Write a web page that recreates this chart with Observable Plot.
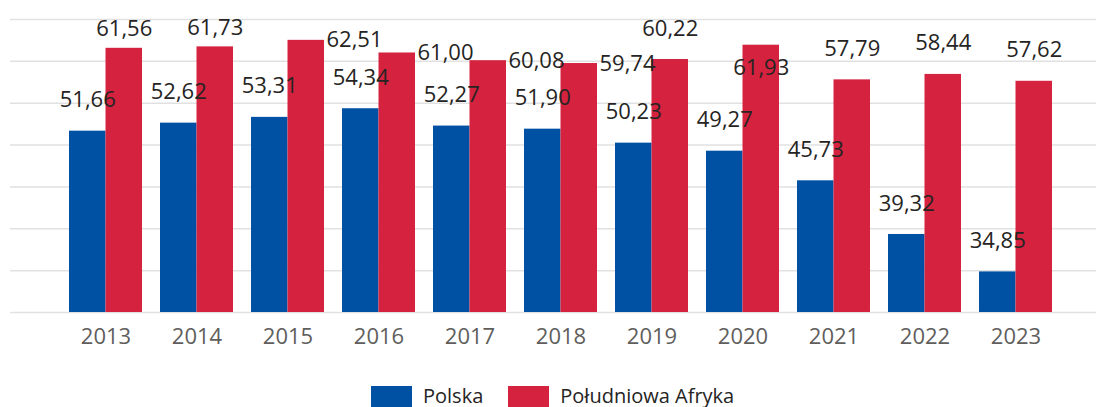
<!DOCTYPE html>
<html>
<head>
<meta charset="utf-8">
<script src="https://cdn.jsdelivr.net/npm/d3@7"></script>
<script src="https://cdn.jsdelivr.net/npm/@observablehq/plot@0.6"></script>
<style>
  html, body { margin: 0; padding: 0; background: #fff; overflow: hidden; }
  body { font-family: "Open Sans", sans-serif; width: 1096px; height: 407px; }
  #legend { display: flex; align-items: center; margin-top: 15px; padding-left: 371px;
            font-size: 20px; line-height: 22px; color: #252423; }
  .item { display: flex; align-items: center; margin-right: 25px; }
  .sw { width: 41px; height: 21px; margin-right: 11px; }
</style>
</head>
<body>
<div id="chart"></div>
<div id="legend"></div>
<script>
// ---- data ----
const years = ["2013","2014","2015","2016","2017","2018","2019","2020","2021","2022","2023"];
const polska = [51.66, 52.62, 53.31, 54.34, 52.27, 51.90, 50.23, 49.27, 45.73, 39.32, 34.85];
const poludniowaAfryka = [61.56, 61.73, 62.51, 61.00, 60.08, 59.74, 60.22, 61.93, 57.79, 58.44, 57.62];
const seriesNames = ["Polska", "Południowa Afryka"];
const seriesColors = ["#0051A3", "#D5223F"];
const yTicks = [30, 35, 40, 45, 50, 55, 60, 65];
// where each data label sits relative to its bar, as in the source chart
const polskaLabelPlacement = ["above","above","above","above","above","above","above","above","above","above","above"];
const afrykaLabelPlacement = ["near-top","near-top","right","right","right","right","above","inside","above","above","above"];

// ---- build table ----
const rows = [];
years.forEach((y, i) => {
  rows.push({year: y, series: seriesNames[0], value: polska[i], side: -1, placement: polskaLabelPlacement[i]});
  rows.push({year: y, series: seriesNames[1], value: poludniowaAfryka[i], side: 1, placement: afrykaLabelPlacement[i]});
});
const fmt = v => v.toFixed(2).replace(".", ",");
const yFloor = yTicks[0];

const W = 1096, H = 370;
const xOpts = {type: "band", domain: years, paddingInner: 0.2, paddingOuter: 0.528, align: 0.569,
               tickSize: 0, tickPadding: 16, label: null};
const common = {
  width: W, height: H, marginLeft: 10, marginRight: 0, marginTop: 19, marginBottom: 58,
  style: {fontFamily: "Open Sans, sans-serif", fontSize: "22px", color: "#605E5C", background: "white"},
  y: {domain: [yTicks[0], yTicks[yTicks.length - 1]], axis: null},
  color: {domain: seriesNames, range: seriesColors}
};

// first pass: read the band width from Plot's own x scale
const probe = Plot.plot({...common, x: xOpts, marks: [Plot.barY(rows, {x: "year", y: "value"})]});
const bw = probe.scale("x").bandwidth;

const dyFor = {"above": -31, "near-top": -19, "right": 0, "inside": 23};
const labelMarks = [];
for (const side of [-1, 1]) {
  for (const p of Object.keys(dyFor)) {
    const sub = rows.filter(d => d.side === side && d.placement === p);
    if (!sub.length) continue;
    const isRight = p === "right";
    labelMarks.push(Plot.text(sub, {
      x: "year", y: "value", text: d => fmt(d.value),
      dx: isRight ? bw / 2 + 2 : side * bw / 4,
      dy: dyFor[p],
      textAnchor: isRight ? "start" : "middle",
      fill: "#252423", fontSize: 22
    }));
  }
}

const chart = Plot.plot({
  ...common,
  x: xOpts,
  marks: [
    Plot.ruleY(yTicks, {stroke: "#E1E1E1", strokeWidth: 1.5}),
    Plot.barY(rows.filter(d => d.side < 0), {x: "year", y1: yFloor, y2: "value", fill: "series", insetLeft: 0, insetRight: bw / 2}),
    Plot.barY(rows.filter(d => d.side > 0), {x: "year", y1: yFloor, y2: "value", fill: "series", insetLeft: bw / 2, insetRight: 0}),
    ...labelMarks
  ]
});
document.getElementById("chart").appendChild(chart);

// legend
const legend = document.getElementById("legend");
seriesNames.forEach((n, i) => {
  const item = document.createElement("div");
  item.className = "item";
  const sw = document.createElement("div");
  sw.className = "sw";
  sw.style.background = seriesColors[i];
  const t = document.createElement("span");
  t.textContent = n;
  item.appendChild(sw); item.appendChild(t);
  legend.appendChild(item);
});
</script>
</body>
</html>
